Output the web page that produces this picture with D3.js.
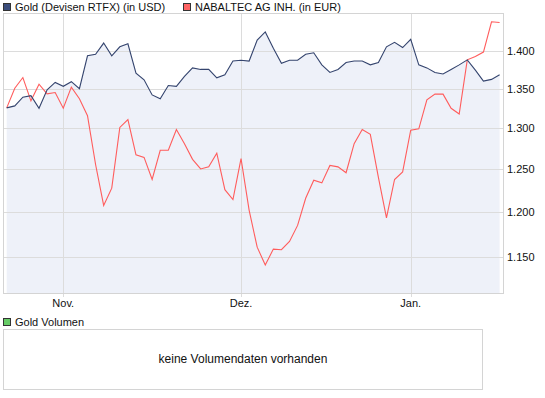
<!DOCTYPE html>
<html>
<head>
<meta charset="utf-8">
<script src="https://cdn.jsdelivr.net/npm/d3@7"></script>
<style>
  body { margin: 0; background: #fff; }
  svg { display: block; font-family: "Liberation Sans", Arial, sans-serif; }
</style>
</head>
<body>
<div id="chart"></div>
<script>
// series names
const seriesNames = ["Gold (Devisen RTFX) (in USD)", "NABALTEC AG INH. (in EUR)"];

// gold, one value per trading day (USD)
const goldValues = [
  1325.5, 1328, 1339, 1341, 1325, 1348.5, 1358, 1353, 1359, 1350,
  1393, 1395, 1410, 1393, 1405, 1409, 1370, 1361.4, 1342, 1337,
  1354, 1353, 1366, 1377, 1375, 1375, 1364, 1368, 1386, 1387,
  1386, 1414, 1425, 1403, 1383, 1387, 1387, 1395, 1397, 1381,
  1371, 1375, 1384, 1386, 1386, 1381, 1384, 1405, 1411, 1404,
  1415, 1381, 1377, 1371, 1369, 1375, 1381, 1387.6, 1374, 1359.7,
  1362, 1368
];

// Nabaltec, rebased onto the gold scale
const nabaltecValues = [
  1325.5, 1350.5, 1364.4, 1334.4, 1355.7, 1343.4, 1345, 1325, 1352, 1337,
  1315.7, 1255.8, 1207.7, 1227.8, 1301, 1310.8, 1267.5, 1264.4, 1238, 1273,
  1273, 1298.5, 1281, 1262, 1250.5, 1253, 1269.5, 1226, 1214.5, 1263,
  1202.4, 1160.6, 1141.1, 1158.5, 1157.8, 1167, 1185, 1216, 1237.2, 1234,
  1254.7, 1253, 1246, 1281, 1298.5, 1292.5, 1240.5, 1193.6, 1238, 1247,
  1297.6, 1299.3, 1335.7, 1343, 1343, 1325, 1317.7, 1387.6, 1392, 1398,
  1438.9, 1438
];

// month labels and the trading-day index where each month starts
const monthLabels = ["Nov.", "Dez.", "Jan."];
const monthIndex = [7, 29, 50];

// y axis ticks
const yTicks = [1150, 1200, 1250, 1300, 1350, 1400];

const volumeLabel = "Gold Volumen";
const noVolumeText = "keine Volumendaten vorhanden";

const width = 545, height = 398;
const frame = { left: 3, right: 503, top: 13, bottom: 293 };

const svg = d3.select("#chart").append("svg")
  .attr("width", width)
  .attr("height", height);

const x = d3.scaleLinear()
  .domain([0, goldValues.length - 1])
  .range([6.7, 499.6]);

const y = d3.scaleLog()
  .domain([1111, 1451])
  .range([frame.bottom, frame.top]);

const de = d3.formatLocale({ decimal: ",", thousands: ".", grouping: [3], currency: ["", " €"] });
const fmt = de.format(",.0f");

// legend
const legendColors = ["#3b4d7c", "#ff6464"];
const legendX = [3, 183];
seriesNames.forEach((name, i) => {
  svg.append("rect")
    .attr("x", legendX[i] + 0.5).attr("y", 3.5)
    .attr("width", 7).attr("height", 7)
    .attr("fill", legendColors[i])
    .attr("stroke", "#333");
  svg.append("text")
    .attr("x", legendX[i] + 12).attr("y", 11)
    .attr("font-size", 11)
    .attr("fill", "#111")
    .text(name);
});

// area under gold
const area = d3.area()
  .x((d, i) => x(i))
  .y0(frame.bottom)
  .y1(d => y(d));

svg.append("path")
  .datum(goldValues)
  .attr("d", area)
  .attr("fill", "#eef1f9");

// grid
const grid = svg.append("g").attr("shape-rendering", "crispEdges");

grid.selectAll(".hgrid")
  .data(yTicks)
  .enter().append("line")
  .attr("class", "hgrid")
  .attr("x1", frame.left).attr("x2", frame.right)
  .attr("y1", d => Math.round(y(d)) + 0.5)
  .attr("y2", d => Math.round(y(d)) + 0.5)
  .attr("stroke", "#dcdcdc");

grid.selectAll(".vgrid")
  .data(monthIndex)
  .enter().append("line")
  .attr("class", "vgrid")
  .attr("x1", d => Math.round(x(d)) + 0.5)
  .attr("x2", d => Math.round(x(d)) + 0.5)
  .attr("y1", frame.top).attr("y2", frame.bottom + 4)
  .attr("stroke", "#dcdcdc");

// frame
svg.append("rect")
  .attr("x", frame.left + 0.5).attr("y", frame.top + 0.5)
  .attr("width", frame.right - frame.left).attr("height", frame.bottom - frame.top)
  .attr("fill", "none")
  .attr("stroke", "#d4d4d4")
  .attr("shape-rendering", "crispEdges");

// lines
const line = d3.line()
  .x((d, i) => x(i))
  .y(d => y(d));

svg.append("path")
  .datum(nabaltecValues)
  .attr("d", line)
  .attr("fill", "none")
  .attr("stroke", "#ff5c5c")
  .attr("stroke-width", 1.1);

svg.append("path")
  .datum(goldValues)
  .attr("d", line)
  .attr("fill", "none")
  .attr("stroke", "#34446e")
  .attr("stroke-width", 1.1);

// y labels
svg.selectAll(".ylab")
  .data(yTicks)
  .enter().append("text")
  .attr("class", "ylab")
  .attr("x", 507)
  .attr("y", d => y(d) + 4)
  .attr("font-size", 11)
  .attr("fill", "#111")
  .text(d => fmt(d));

// month labels
svg.selectAll(".xlab")
  .data(monthIndex)
  .enter().append("text")
  .attr("class", "xlab")
  .attr("x", d => x(d))
  .attr("y", 307)
  .attr("text-anchor", "middle")
  .attr("font-size", 11)
  .attr("fill", "#111")
  .text((d, i) => monthLabels[i]);

// volume panel
svg.append("rect")
  .attr("x", 3.5).attr("y", 318.5)
  .attr("width", 7).attr("height", 7)
  .attr("fill", "#66cc66")
  .attr("stroke", "#333");
svg.append("text")
  .attr("x", 15).attr("y", 326)
  .attr("font-size", 11)
  .attr("fill", "#111")
  .text(volumeLabel);

svg.append("rect")
  .attr("x", 3.5).attr("y", 329.5)
  .attr("width", 479).attr("height", 60)
  .attr("fill", "none")
  .attr("stroke", "#d4d4d4")
  .attr("shape-rendering", "crispEdges");

svg.append("text")
  .attr("x", 243).attr("y", 363)
  .attr("text-anchor", "middle")
  .attr("font-size", 12)
  .attr("fill", "#111")
  .text(noVolumeText);
</script>
</body>
</html>
